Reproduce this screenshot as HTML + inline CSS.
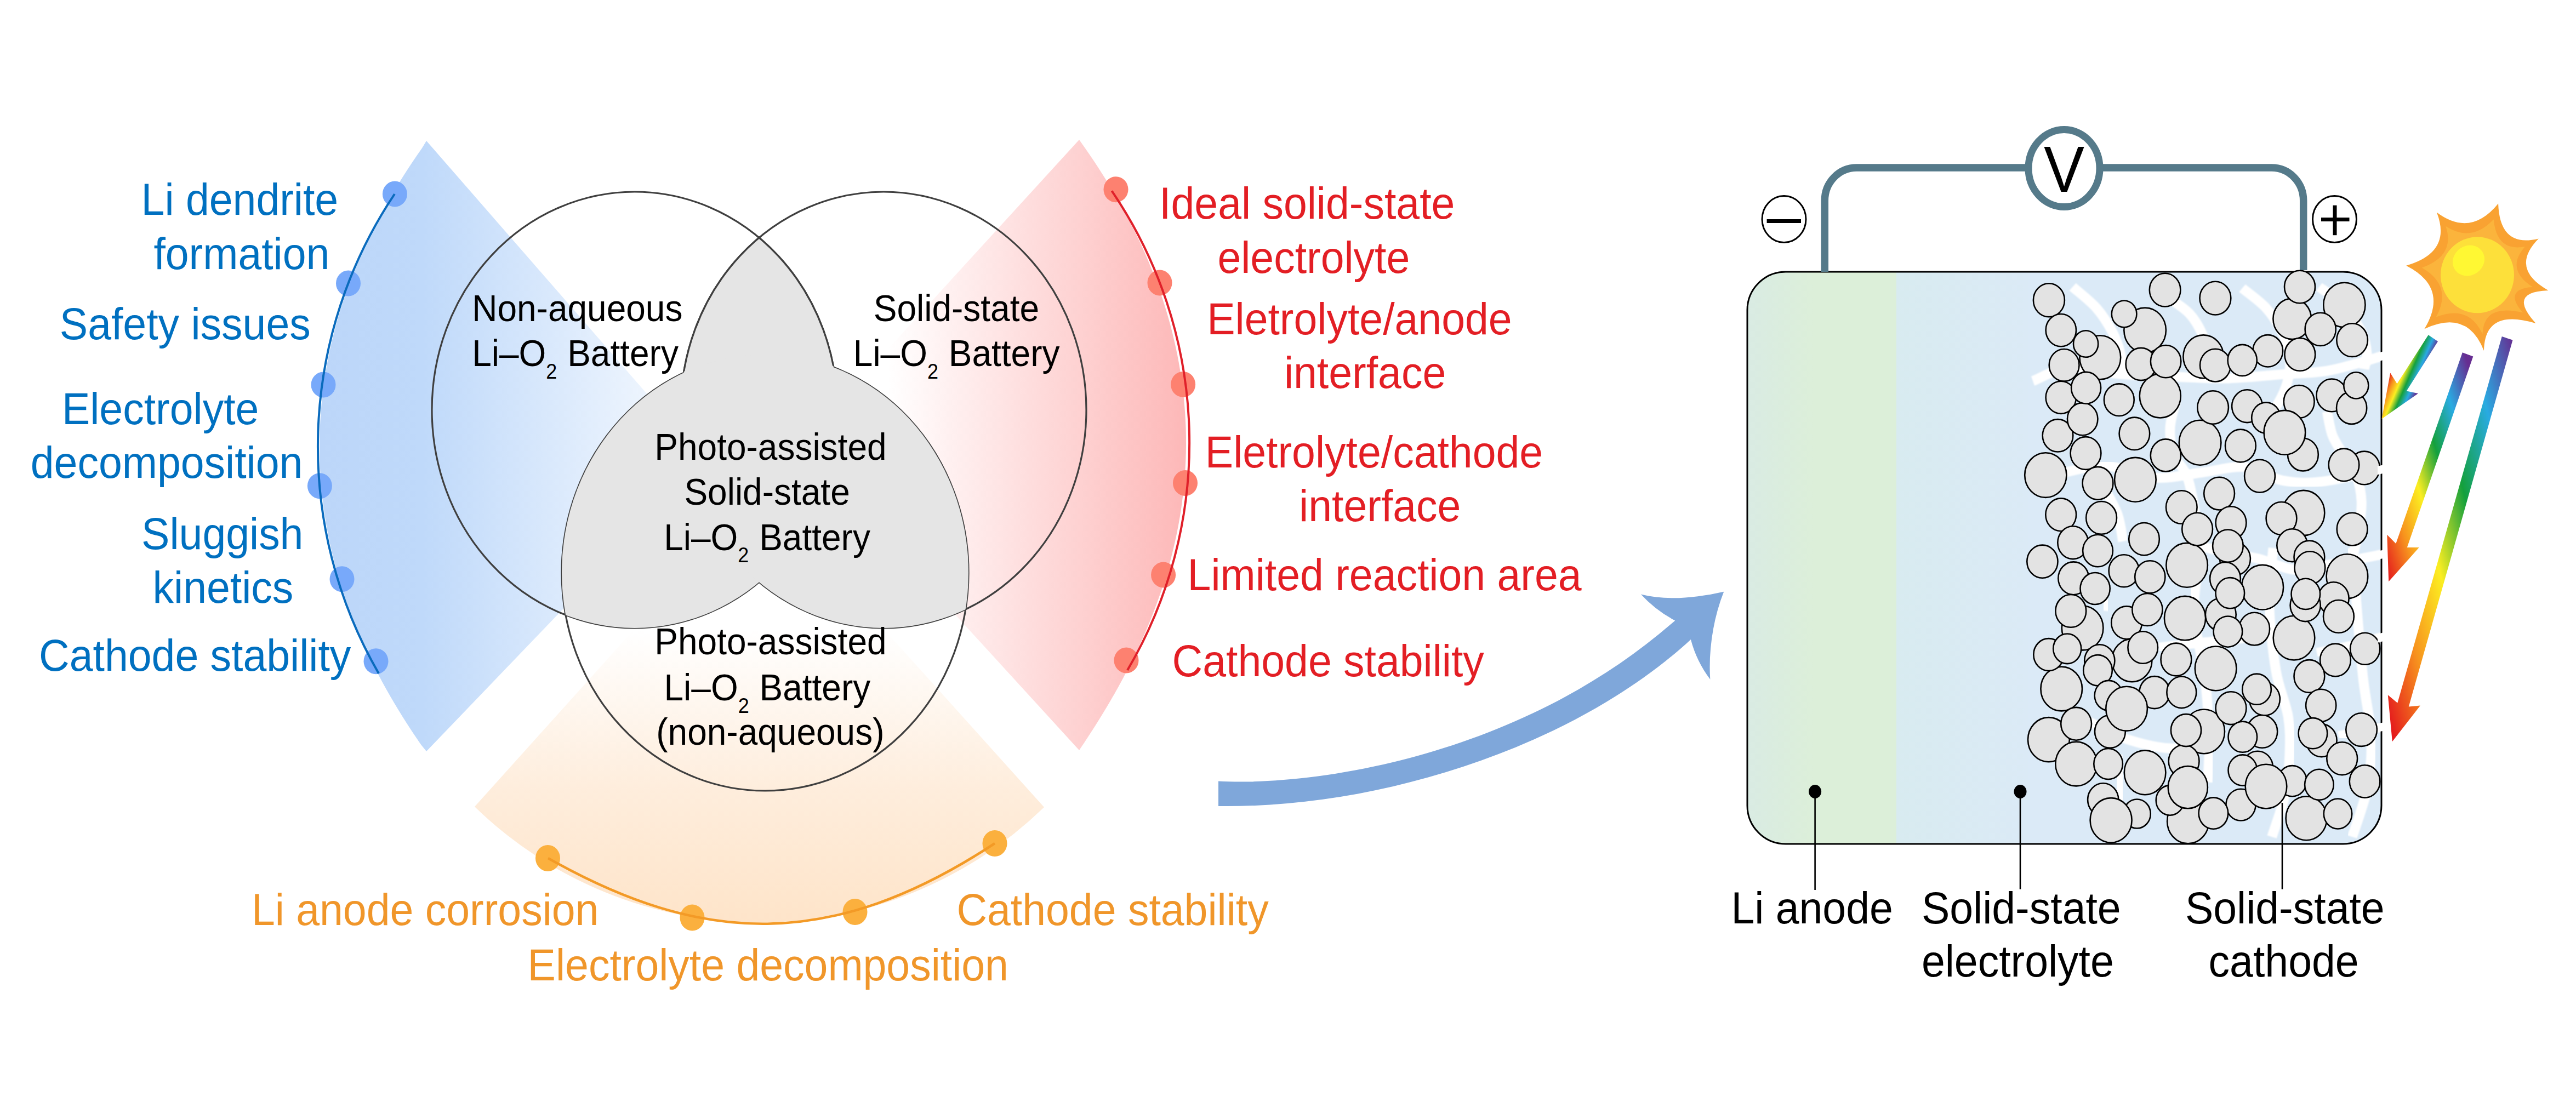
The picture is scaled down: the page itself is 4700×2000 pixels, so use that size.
<!DOCTYPE html>
<html><head><meta charset="utf-8"><style>html,body{margin:0;padding:0;background:#fff;width:4700px;height:2000px;overflow:hidden} svg{display:block} text{font-family:"Liberation Sans",sans-serif}</style></head>
<body><svg width="4700" height="2000" viewBox="0 0 4700 2000">
<defs>
 <linearGradient id="gBlue" gradientUnits="userSpaceOnUse" x1="580" y1="0" x2="1340" y2="0">
  <stop offset="0" stop-color="#bcd6f9"/><stop offset="0.25" stop-color="#bfd9fa"/><stop offset="1" stop-color="#ffffff"/>
 </linearGradient>
 <linearGradient id="gRed" gradientUnits="userSpaceOnUse" x1="2170" y1="0" x2="1620" y2="0">
  <stop offset="0" stop-color="#fdb7b7"/><stop offset="1" stop-color="#ffffff"/>
 </linearGradient>
 <linearGradient id="gOrg" gradientUnits="userSpaceOnUse" x1="0" y1="1690" x2="0" y2="1150">
  <stop offset="0" stop-color="#fee4c9"/><stop offset="0.46" stop-color="#feeddc"/><stop offset="1" stop-color="#ffffff"/>
 </linearGradient>
 <clipPath id="cL"><ellipse cx="1158" cy="748" rx="370" ry="398"/></clipPath>
 <clipPath id="cR"><ellipse cx="1612" cy="748" rx="370" ry="398"/></clipPath>
 <clipPath id="cB"><ellipse cx="1396" cy="1045" rx="371" ry="398"/></clipPath>
 <linearGradient id="gAnode" gradientUnits="userSpaceOnUse" x1="3188" y1="0" x2="3460" y2="0">
  <stop offset="0" stop-color="#d9ebe3"/><stop offset="0.45" stop-color="#dcefd9"/><stop offset="1" stop-color="#dcefd9"/>
 </linearGradient>
 <linearGradient id="gElec" gradientUnits="userSpaceOnUse" x1="3460" y1="0" x2="3700" y2="0">
  <stop offset="0" stop-color="#d8ebf0"/><stop offset="1" stop-color="#dbeaf6"/>
 </linearGradient>
 <clipPath id="cBat"><rect x="3188" y="496" width="1157" height="1044" rx="70" ry="70"/></clipPath>
 <radialGradient id="gSunGlow" cx="0.5" cy="0.5" r="0.5"><stop offset="0" stop-color="#fde03a"/><stop offset="1" stop-color="#fde03a"/></radialGradient>
 <linearGradient id="gRain1" gradientUnits="userSpaceOnUse" x1="4359.8" y1="679.9" x2="4415.2" y2="703.5">
  <stop offset="0" stop-color="#e41b1d"/><stop offset="0.2" stop-color="#f7931e"/><stop offset="0.4" stop-color="#fcee21"/><stop offset="0.6" stop-color="#14a03c"/><stop offset="0.8" stop-color="#29abe2"/><stop offset="1" stop-color="#662d91"/>
 </linearGradient>
 <linearGradient id="gRain2" gradientUnits="userSpaceOnUse" x1="4253.8" y1="716" x2="4496" y2="642.3">
  <stop offset="0" stop-color="#e41b1d"/><stop offset="0.2" stop-color="#f7931e"/><stop offset="0.4" stop-color="#fcee21"/><stop offset="0.6" stop-color="#14a03c"/><stop offset="0.8" stop-color="#29abe2"/><stop offset="1" stop-color="#662d91"/>
 </linearGradient>
 <linearGradient id="gRain3" gradientUnits="userSpaceOnUse" x1="4200.3" y1="709.5" x2="4583" y2="609.3">
  <stop offset="0" stop-color="#e41b1d"/><stop offset="0.2" stop-color="#f7931e"/><stop offset="0.4" stop-color="#fcee21"/><stop offset="0.6" stop-color="#14a03c"/><stop offset="0.8" stop-color="#29abe2"/><stop offset="1" stop-color="#662d91"/>
 </linearGradient>
 <filter id="blurW" x="-20%" y="-20%" width="140%" height="140%"><feGaussianBlur stdDeviation="1.3"/></filter>
</defs>

<path d="M778.0,257.0 L770.0,270.2 L761.3,282.7 L752.8,295.3 L744.4,308.0 L736.2,320.7 L728.2,333.5 L720.3,346.4 L712.7,359.4 L705.2,372.4 L697.9,385.6 L690.7,398.8 L683.8,412.1 L677.1,425.5 L670.6,439.0 L664.2,452.6 L658.1,466.3 L652.2,480.0 L646.5,493.9 L641.1,507.8 L635.8,521.8 L630.8,535.9 L626.0,550.1 L621.5,564.3 L617.2,578.6 L613.1,593.0 L609.3,607.4 L605.7,621.9 L602.4,636.5 L599.4,651.1 L596.5,665.8 L594.0,680.5 L591.7,695.2 L589.7,710.0 L587.9,724.9 L586.4,739.7 L585.2,754.6 L584.3,769.5 L583.6,784.4 L583.1,799.3 L583.0,814.3 L583.1,829.2 L583.5,844.1 L584.2,859.0 L585.1,873.9 L586.3,888.8 L587.8,903.7 L589.5,918.5 L591.5,933.3 L593.8,948.1 L596.3,962.8 L599.1,977.5 L602.1,992.1 L605.4,1006.7 L608.9,1021.2 L612.7,1035.6 L616.7,1050.0 L621.0,1064.3 L625.5,1078.6 L630.3,1092.7 L635.2,1106.8 L640.5,1120.9 L645.9,1134.8 L651.5,1148.7 L657.4,1162.4 L663.5,1176.1 L669.7,1189.7 L676.2,1203.3 L682.9,1216.7 L689.8,1230.0 L696.8,1243.3 L704.1,1256.5 L711.5,1269.6 L719.1,1282.6 L726.9,1295.6 L734.9,1308.5 L743.0,1321.3 L751.3,1334.0 L759.7,1346.6 L768.4,1359.2 L778.0,1371.0 L1287,841 Z" fill="url(#gBlue)"/>
<path d="M1969.0,255.0 L1977.8,267.5 L1986.5,280.0 L1995.0,292.6 L2003.4,305.3 L2011.5,318.0 L2019.6,330.8 L2027.4,343.7 L2035.1,356.7 L2042.5,369.8 L2049.8,382.9 L2057.0,396.1 L2063.9,409.4 L2070.6,422.8 L2077.1,436.3 L2083.5,449.8 L2089.6,463.5 L2095.5,477.2 L2101.1,491.0 L2106.6,504.9 L2111.8,518.9 L2116.8,533.0 L2121.6,547.1 L2126.1,561.3 L2130.4,575.6 L2134.5,590.0 L2138.3,604.4 L2141.8,618.9 L2145.1,633.4 L2148.2,648.0 L2150.9,662.6 L2153.4,677.3 L2155.7,692.1 L2157.7,706.8 L2159.4,721.6 L2160.8,736.5 L2162.0,751.3 L2162.9,766.2 L2163.6,781.1 L2163.9,796.0 L2164.0,810.9 L2163.8,825.8 L2163.3,840.7 L2162.6,855.6 L2161.6,870.5 L2160.3,885.3 L2158.8,900.1 L2156.9,914.9 L2154.9,929.7 L2152.5,944.4 L2149.9,959.1 L2147.0,973.7 L2143.9,988.3 L2140.5,1002.8 L2136.9,1017.3 L2133.0,1031.7 L2128.9,1046.0 L2124.5,1060.3 L2120.0,1074.5 L2115.1,1088.6 L2110.1,1102.6 L2104.8,1116.6 L2099.4,1130.5 L2093.7,1144.3 L2087.8,1158.1 L2081.7,1171.8 L2075.4,1185.4 L2068.9,1198.9 L2062.2,1212.3 L2055.3,1225.7 L2048.3,1239.0 L2041.1,1252.3 L2033.7,1265.4 L2026.2,1278.5 L2018.5,1291.6 L2010.6,1304.6 L2002.6,1317.6 L1994.4,1330.5 L1986.1,1343.3 L1977.6,1356.2 L1969.0,1369.0 L1460,812 Z" fill="url(#gRed)"/>
<path d="M866,1472 A745,745 0 0 0 1905,1473 L1385,895 Z" fill="url(#gOrg)"/>
<ellipse cx="1158" cy="748" rx="370" ry="398" fill="none" stroke="#3f3f3f" stroke-width="3.2"/>
<ellipse cx="1612" cy="748" rx="370" ry="398" fill="none" stroke="#3f3f3f" stroke-width="3.2"/>
<ellipse cx="1396" cy="1045" rx="371" ry="398" fill="none" stroke="#3f3f3f" stroke-width="3.2"/>
<g clip-path="url(#cR)"><ellipse cx="1158" cy="748" rx="370" ry="398" fill="#e5e5e5"/></g>
<g clip-path="url(#cB)"><ellipse cx="1158" cy="748" rx="370" ry="398" fill="#e5e5e5"/></g>
<g clip-path="url(#cB)"><ellipse cx="1612" cy="748" rx="370" ry="398" fill="#e5e5e5"/></g>
<clipPath id="cR2"><ellipse cx="1612" cy="748" rx="374" ry="402"/></clipPath><mask id="mLens" maskUnits="userSpaceOnUse" x="0" y="0" width="4700" height="2000"><g clip-path="url(#cR2)"><ellipse cx="1158" cy="748" rx="370" ry="398" fill="#fff" stroke="#fff" stroke-width="8"/></g><ellipse cx="1396" cy="1045" rx="373" ry="400" fill="#000"/></mask>
<g mask="url(#mLens)"><ellipse cx="1158" cy="748" rx="370" ry="398" fill="none" stroke="#3f3f3f" stroke-width="3.2"/><ellipse cx="1612" cy="748" rx="370" ry="398" fill="none" stroke="#3f3f3f" stroke-width="3.2"/></g>
<ellipse cx="720.4" cy="354" rx="22.5" ry="23.5" fill="#78a9fa"/>
<ellipse cx="635.5" cy="517" rx="22.5" ry="23.5" fill="#78a9fa"/>
<ellipse cx="590" cy="702" rx="22.5" ry="23.5" fill="#78a9fa"/>
<ellipse cx="583.4" cy="886.7" rx="22.5" ry="23.5" fill="#78a9fa"/>
<ellipse cx="624" cy="1056.7" rx="22.5" ry="23.5" fill="#78a9fa"/>
<ellipse cx="686" cy="1206.7" rx="22.5" ry="23.5" fill="#78a9fa"/>
<path d="M720,354 A828,828 0 0 0 691,1229" fill="none" stroke="#0a6bbd" stroke-width="4"/>
<ellipse cx="2036" cy="345.7" rx="22.5" ry="23.5" fill="#fd8170"/>
<ellipse cx="2116" cy="516" rx="22.5" ry="23.5" fill="#fd8170"/>
<ellipse cx="2158.6" cy="701.4" rx="22.5" ry="23.5" fill="#fd8170"/>
<ellipse cx="2162.5" cy="881.5" rx="22.5" ry="23.5" fill="#fd8170"/>
<ellipse cx="2122.6" cy="1049" rx="22.5" ry="23.5" fill="#fd8170"/>
<ellipse cx="2055" cy="1205" rx="22.5" ry="23.5" fill="#fd8170"/>
<path d="M2028.5,348.4 A817,817 0 0 1 2057,1223" fill="none" stroke="#e0202a" stroke-width="4"/>
<ellipse cx="999.5" cy="1566" rx="22.5" ry="24" fill="#fbb03e"/>
<ellipse cx="1263" cy="1674.6" rx="22.5" ry="24" fill="#fbb03e"/>
<ellipse cx="1560" cy="1664" rx="22.5" ry="24" fill="#fbb03e"/>
<ellipse cx="1815" cy="1539" rx="22.5" ry="24" fill="#fbb03e"/>
<path d="M1000,1566 C1279.6,1724.1 1515.5,1736.1 1815,1539" fill="none" stroke="#f39a26" stroke-width="4.5"/>
<text font-family="Liberation Sans" transform="translate(257.6,392.0) scale(1,1.07)" font-size="77" fill="#0070c0">Li dendrite</text>
<text font-family="Liberation Sans" transform="translate(280.4,490.5) scale(1,1.07)" font-size="77" fill="#0070c0">formation</text>
<text font-family="Liberation Sans" transform="translate(108.8,618.6) scale(1,1.07)" font-size="77" fill="#0070c0">Safety issues</text>
<text font-family="Liberation Sans" transform="translate(112.9,774.0) scale(1,1.07)" font-size="77" fill="#0070c0">Electrolyte</text>
<text font-family="Liberation Sans" transform="translate(55.8,872.0) scale(1,1.07)" font-size="77" fill="#0070c0">decomposition</text>
<text font-family="Liberation Sans" transform="translate(258.1,1002.0) scale(1,1.07)" font-size="77" fill="#0070c0">Sluggish</text>
<text font-family="Liberation Sans" transform="translate(278.6,1099.6) scale(1,1.07)" font-size="77" fill="#0070c0">kinetics</text>
<text font-family="Liberation Sans" transform="translate(71.1,1224.0) scale(1,1.07)" font-size="77" fill="#0070c0">Cathode stability</text>
<text font-family="Liberation Sans" transform="translate(2115.1,399.0) scale(1,1.07)" font-size="77" fill="#e31e24">Ideal solid-state</text>
<text font-family="Liberation Sans" transform="translate(2221.4,497.6) scale(1,1.07)" font-size="77" fill="#e31e24">electrolyte</text>
<text font-family="Liberation Sans" transform="translate(2202.2,609.7) scale(1,1.07)" font-size="77" fill="#e31e24">Eletrolyte/anode</text>
<text font-family="Liberation Sans" transform="translate(2342.9,708.0) scale(1,1.07)" font-size="77" fill="#e31e24">interface</text>
<text font-family="Liberation Sans" transform="translate(2198.8,852.5) scale(1,1.07)" font-size="77" fill="#e31e24">Eletrolyte/cathode</text>
<text font-family="Liberation Sans" transform="translate(2370.1,951.0) scale(1,1.07)" font-size="77" fill="#e31e24">interface</text>
<text font-family="Liberation Sans" transform="translate(2166.6,1077.0) scale(1,1.07)" font-size="77" fill="#e31e24">Limited reaction area</text>
<text font-family="Liberation Sans" transform="translate(2138.6,1233.7) scale(1,1.07)" font-size="77" fill="#e31e24">Cathode stability</text>
<text font-family="Liberation Sans" transform="translate(458.9,1687.5) scale(1,1.07)" font-size="77" fill="#f0962a">Li anode corrosion</text>
<text font-family="Liberation Sans" transform="translate(1745.4,1687.5) scale(1,1.07)" font-size="77" fill="#f0962a">Cathode stability</text>
<text font-family="Liberation Sans" transform="translate(962.6,1789.0) scale(1,1.07)" font-size="77" fill="#f0962a">Electrolyte decomposition</text>
<text font-family="Liberation Sans" transform="translate(861.2,586.3) scale(1,1.07)" font-size="64" fill="#000">Non-aqueous</text>
<text font-family="Liberation Sans" transform="translate(1593.7,586.3) scale(1,1.07)" font-size="64" fill="#000">Solid-state</text>
<text font-family="Liberation Sans" transform="translate(1194.3,839.0) scale(1,1.07)" font-size="64" fill="#000">Photo-assisted</text>
<text font-family="Liberation Sans" transform="translate(1248.4,921.0) scale(1,1.07)" font-size="64" fill="#000">Solid-state</text>
<text font-family="Liberation Sans" transform="translate(1194.3,1194.3) scale(1,1.07)" font-size="64" fill="#000">Photo-assisted</text>
<text font-family="Liberation Sans" transform="translate(1197.3,1359.3) scale(1,1.07)" font-size="64" fill="#000">(non-aqueous)</text>
<text font-family="Liberation Sans" transform="translate(3158.4,1684.7) scale(1,1.07)" font-size="77" fill="#000">Li anode</text>
<text font-family="Liberation Sans" transform="translate(3505.9,1684.7) scale(1,1.07)" font-size="77" fill="#000">Solid-state</text>
<text font-family="Liberation Sans" transform="translate(3505.9,1781.7) scale(1,1.07)" font-size="77" fill="#000">electrolyte</text>
<text font-family="Liberation Sans" transform="translate(3986.9,1684.7) scale(1,1.07)" font-size="77" fill="#000">Solid-state</text>
<text font-family="Liberation Sans" transform="translate(4029.6,1781.7) scale(1,1.07)" font-size="77" fill="#000">cathode</text>
<text font-family="Liberation Sans" transform="translate(861.2,668.4) scale(1,1.07)" font-size="64" fill="#000">Li–O<tspan font-size="36" dy="21">2</tspan><tspan dy="-21" dx="1"> Battery</tspan></text>
<text font-family="Liberation Sans" transform="translate(1556.8,668.4) scale(1,1.07)" font-size="64" fill="#000">Li–O<tspan font-size="36" dy="21">2</tspan><tspan dy="-21" dx="1"> Battery</tspan></text>
<text font-family="Liberation Sans" transform="translate(1211.2,1003.8) scale(1,1.07)" font-size="64" fill="#000">Li–O<tspan font-size="36" dy="21">2</tspan><tspan dy="-21" dx="1"> Battery</tspan></text>
<text font-family="Liberation Sans" transform="translate(1211.5,1278.2) scale(1,1.07)" font-size="64" fill="#000">Li–O<tspan font-size="36" dy="21">2</tspan><tspan dy="-21" dx="1"> Battery</tspan></text>
<path d="M2223,1425.5 C2400,1435 2775,1380 3056.2,1132.4 Q3021,1114 2993.9,1084.5 C3040,1096 3090,1092 3145.2,1079.7 C3125,1130 3117,1190 3120.3,1239.7 Q3095.4,1206.8 3084.9,1166.9 C2875,1360 2525,1475 2223,1471 Z" fill="#7fa7da"/>
<g clip-path="url(#cBat)">
<rect x="3188" y="496" width="272" height="1044" fill="url(#gAnode)"/>
<rect x="3460" y="496" width="240" height="1044" fill="url(#gElec)"/>
<rect x="3700" y="496" width="645" height="1044" fill="#dbeaf7"/>
<path d="M3781.6,523.5 C3788.8,530.0 3813.0,548.5 3825.1,562.2 C3837.2,575.9 3846.8,592.0 3854.1,605.7 C3861.3,619.4 3865.4,631.5 3868.6,644.4 C3871.8,657.3 3872.6,676.7 3873.4,683.1 " fill="none" stroke="#ffffff" stroke-width="18" stroke-linecap="butt" filter="url(#blurW)"/>
<path d="M3955.7,542.9 C3962.1,547.7 3983.9,560.6 3994.3,571.9 C4004.8,583.2 4013.3,598.5 4018.5,610.6 C4023.8,622.7 4024.6,638.8 4025.8,644.4 " fill="none" stroke="#ffffff" stroke-width="18" stroke-linecap="butt" filter="url(#blurW)"/>
<path d="M4091.1,525.9 C4098.3,532.0 4122.5,548.9 4134.6,562.2 C4146.7,575.5 4156.3,591.2 4163.6,605.7 C4170.9,620.2 4176.5,633.9 4178.1,649.3 C4179.7,664.6 4176.9,683.1 4173.3,697.6 C4169.6,712.1 4163.6,723.4 4156.3,736.3 C4149.1,749.2 4134.2,768.5 4129.7,775.0 " fill="none" stroke="#ffffff" stroke-width="18" stroke-linecap="butt" filter="url(#blurW)"/>
<path d="M4231.3,523.5 C4238.6,529.2 4261.9,543.7 4274.8,557.4 C4287.7,571.1 4301.4,591.2 4308.7,605.7 C4315.9,620.2 4317.5,633.1 4318.4,644.4 C4319.2,655.7 4314.3,668.6 4313.5,673.4 " fill="none" stroke="#ffffff" stroke-width="18" stroke-linecap="butt" filter="url(#blurW)"/>
<path d="M3709.0,695.2 C3720.3,691.2 3749.3,673.0 3776.7,671.0 C3804.1,669.0 3839.6,680.3 3873.4,683.1 C3907.3,685.9 3947.6,686.7 3979.8,687.9 C4012.1,689.2 4036.3,691.2 4066.9,690.4 C4097.5,689.6 4133.0,685.5 4163.6,683.1 C4194.2,680.7 4218.8,681.8 4250.6,675.9 C4282.5,669.9 4337.3,652.1 4354.6,647.3 " fill="none" stroke="#ffffff" stroke-width="18" stroke-linecap="butt" filter="url(#blurW)"/>
<path d="M3970.2,731.5 C3968.4,739.5 3960.3,763.7 3959.5,779.8 C3958.7,796.0 3960.3,813.7 3965.3,828.2 C3970.3,842.7 3983.5,852.4 3989.5,866.9 C3995.5,881.4 3998.4,899.1 4001.6,915.2 C4004.8,931.4 4006.8,947.8 4008.8,963.6 C4010.9,979.4 4012.9,1002.3 4013.7,1010.0 " fill="none" stroke="#ffffff" stroke-width="18" stroke-linecap="butt" filter="url(#blurW)"/>
<path d="M3767.0,862.0 C3779.9,860.0 3817.0,848.3 3844.4,850.0 C3871.8,851.6 3902.5,869.7 3931.5,871.7 C3960.5,873.7 3991.1,865.3 4018.5,862.0 C4045.9,858.8 4071.7,850.0 4095.9,852.4 C4120.1,854.8 4140.2,872.1 4163.6,876.6 C4187.0,881.0 4204.3,882.6 4236.1,879.0 C4268.0,875.3 4334.9,858.8 4354.6,854.8 " fill="none" stroke="#ffffff" stroke-width="18" stroke-linecap="butt" filter="url(#blurW)"/>
<path d="M4245.8,750.8 C4247.4,758.1 4250.6,781.4 4255.5,794.3 C4260.3,807.2 4267.6,816.1 4274.8,828.2 C4282.1,840.3 4293.4,852.4 4299.0,866.9 C4304.6,881.4 4307.9,899.1 4308.7,915.2 C4309.5,931.4 4306.3,947.8 4303.8,963.6 C4301.4,979.4 4295.8,1002.3 4294.2,1010.0 " fill="none" stroke="#ffffff" stroke-width="18" stroke-linecap="butt" filter="url(#blurW)"/>
<path d="M3839.6,891.1 C3843.6,899.1 3858.1,923.3 3863.8,939.4 C3869.4,955.5 3871.8,979.7 3873.4,987.8 " fill="none" stroke="#ffffff" stroke-width="18" stroke-linecap="butt" filter="url(#blurW)"/>
<path d="M4147.6,1000.0 C4146.3,1016.6 4139.3,1062.2 4140.1,1099.5 C4140.9,1136.8 4146.7,1189.0 4152.5,1223.8 C4158.3,1258.6 4170.8,1282.7 4174.9,1308.4 C4179.1,1334.1 4178.2,1354.8 4177.4,1378.0 C4176.6,1401.2 4175.3,1422.8 4169.9,1447.7 C4164.6,1472.5 4149.2,1514.0 4145.1,1527.2 " fill="none" stroke="#ffffff" stroke-width="18" stroke-linecap="butt" filter="url(#blurW)"/>
<path d="M4291.8,1000.0 C4293.0,1016.6 4295.9,1059.7 4299.3,1099.5 C4302.6,1139.3 4307.1,1197.3 4311.7,1238.8 C4316.3,1280.2 4325.4,1315.0 4326.6,1348.2 C4327.9,1381.3 4325.0,1407.9 4319.2,1437.7 C4313.4,1467.6 4296.4,1512.3 4291.8,1527.2 " fill="none" stroke="#ffffff" stroke-width="18" stroke-linecap="butt" filter="url(#blurW)"/>
<path d="M4008.3,1049.7 C4007.5,1062.2 4000.8,1092.8 4003.3,1124.3 C4005.8,1155.9 4018.6,1201.4 4023.2,1238.8 C4027.8,1276.1 4029.8,1316.7 4030.7,1348.2 C4031.5,1379.7 4028.6,1414.5 4028.2,1427.8 " fill="none" stroke="#ffffff" stroke-width="18" stroke-linecap="butt" filter="url(#blurW)"/>
<path d="M3844.1,1064.7 C3843.3,1073.0 3840.0,1106.1 3839.2,1114.4 " fill="none" stroke="#ffffff" stroke-width="18" stroke-linecap="butt" filter="url(#blurW)"/>
<path d="M3864.0,1378.0 C3865.3,1392.1 3870.3,1448.5 3871.5,1462.6 " fill="none" stroke="#ffffff" stroke-width="18" stroke-linecap="butt" filter="url(#blurW)"/>
<path d="M3938.6,1181.6 C3949.4,1180.3 3980.1,1176.6 4003.3,1174.1 C4026.5,1171.6 4053.9,1169.9 4077.9,1166.6 C4102.0,1163.3 4135.9,1156.3 4147.6,1154.2 " fill="none" stroke="#ffffff" stroke-width="18" stroke-linecap="butt" filter="url(#blurW)"/>
<path d="M4227.1,1191.5 C4237.1,1189.4 4265.3,1184.4 4286.8,1179.1 C4308.4,1173.8 4344.9,1162.9 4356.5,1159.7 " fill="none" stroke="#ffffff" stroke-width="18" stroke-linecap="butt" filter="url(#blurW)"/>
<path d="M3809.3,1315.8 C3820.9,1321.2 3854.1,1339.9 3879.0,1348.2 C3903.8,1356.5 3933.7,1363.9 3958.5,1365.6 C3983.4,1367.2 4016.6,1359.4 4028.2,1358.1 " fill="none" stroke="#ffffff" stroke-width="18" stroke-linecap="butt" filter="url(#blurW)"/>
<path d="M4266.9,1343.2 C4281.9,1340.1 4341.5,1327.5 4356.5,1324.3 " fill="none" stroke="#ffffff" stroke-width="18" stroke-linecap="butt" filter="url(#blurW)"/>
<path d="M3990.0,990.0 C4000.9,992.8 4033.8,1001.7 4055.7,1006.7 C4077.6,1011.7 4099.5,1014.3 4121.4,1019.8 C4143.3,1025.3 4165.1,1037.8 4187.0,1039.5 C4208.9,1041.2 4224.8,1034.6 4252.8,1029.7 C4280.8,1024.8 4338.0,1013.3 4355.0,1010.0 " fill="none" stroke="#ffffff" stroke-width="18" stroke-linecap="butt" filter="url(#blurW)"/>
<ellipse cx="4202.9" cy="936.0" rx="38.4" ry="41.1" fill="#e3e3e3" stroke="#000" stroke-width="2.6"/>
<ellipse cx="4014.1" cy="807.7" rx="38.3" ry="41.0" fill="#e3e3e3" stroke="#000" stroke-width="2.6"/>
<ellipse cx="3913.6" cy="602.6" rx="38.3" ry="41.0" fill="#e3e3e3" stroke="#000" stroke-width="2.6"/>
<ellipse cx="4277.4" cy="556.5" rx="38.1" ry="40.8" fill="#e3e3e3" stroke="#000" stroke-width="2.6"/>
<ellipse cx="3732.3" cy="867.1" rx="38.1" ry="40.8" fill="#e3e3e3" stroke="#000" stroke-width="2.6"/>
<ellipse cx="4128.0" cy="1071.7" rx="38.1" ry="40.8" fill="#e3e3e3" stroke="#000" stroke-width="2.6"/>
<ellipse cx="3992.1" cy="1498.7" rx="38.0" ry="40.7" fill="#e3e3e3" stroke="#000" stroke-width="2.6"/>
<ellipse cx="3737.9" cy="1349.7" rx="37.9" ry="40.6" fill="#e3e3e3" stroke="#000" stroke-width="2.6"/>
<ellipse cx="3895.9" cy="875.3" rx="37.8" ry="40.4" fill="#e3e3e3" stroke="#000" stroke-width="2.6"/>
<ellipse cx="3990.1" cy="1031.3" rx="37.8" ry="40.4" fill="#e3e3e3" stroke="#000" stroke-width="2.6"/>
<ellipse cx="4282.4" cy="1051.7" rx="37.8" ry="40.4" fill="#e3e3e3" stroke="#000" stroke-width="2.6"/>
<ellipse cx="3799.6" cy="1146.0" rx="37.8" ry="40.4" fill="#e3e3e3" stroke="#000" stroke-width="2.6"/>
<ellipse cx="3761.2" cy="1257.0" rx="37.8" ry="40.4" fill="#e3e3e3" stroke="#000" stroke-width="2.6"/>
<ellipse cx="3788.1" cy="1394.0" rx="37.8" ry="40.4" fill="#e3e3e3" stroke="#000" stroke-width="2.6"/>
<ellipse cx="3913.6" cy="1409.8" rx="37.8" ry="40.4" fill="#e3e3e3" stroke="#000" stroke-width="2.6"/>
<ellipse cx="4185.5" cy="1164.1" rx="37.8" ry="40.4" fill="#e3e3e3" stroke="#000" stroke-width="2.6"/>
<ellipse cx="4042.6" cy="1219.9" rx="37.8" ry="40.4" fill="#e3e3e3" stroke="#000" stroke-width="2.6"/>
<ellipse cx="4021.2" cy="1334.9" rx="37.8" ry="40.4" fill="#e3e3e3" stroke="#000" stroke-width="2.6"/>
<ellipse cx="3986.5" cy="1128.1" rx="37.6" ry="40.2" fill="#e3e3e3" stroke="#000" stroke-width="2.6"/>
<ellipse cx="3941.3" cy="722.4" rx="37.5" ry="40.1" fill="#e3e3e3" stroke="#000" stroke-width="2.6"/>
<ellipse cx="4208.0" cy="1493.2" rx="37.4" ry="40.0" fill="#e3e3e3" stroke="#000" stroke-width="2.6"/>
<ellipse cx="3831.8" cy="652.3" rx="37.4" ry="40.0" fill="#e3e3e3" stroke="#000" stroke-width="2.6"/>
<ellipse cx="4020.2" cy="650.8" rx="36.8" ry="39.4" fill="#e3e3e3" stroke="#000" stroke-width="2.6"/>
<ellipse cx="3889.9" cy="1205.1" rx="36.5" ry="39.1" fill="#e3e3e3" stroke="#000" stroke-width="2.6"/>
<ellipse cx="4182.2" cy="581.8" rx="34.8" ry="37.2" fill="#e3e3e3" stroke="#000" stroke-width="2.6"/>
<ellipse cx="3738.4" cy="547.7" rx="28.5" ry="30.5" fill="#e3e3e3" stroke="#000" stroke-width="2.6"/>
<ellipse cx="4041.9" cy="544.1" rx="28.4" ry="30.4" fill="#e3e3e3" stroke="#000" stroke-width="2.6"/>
<ellipse cx="3950.1" cy="529.1" rx="28.3" ry="30.3" fill="#e3e3e3" stroke="#000" stroke-width="2.6"/>
<ellipse cx="4291.6" cy="620.6" rx="28.3" ry="30.3" fill="#e3e3e3" stroke="#000" stroke-width="2.6"/>
<ellipse cx="4037.6" cy="743.5" rx="28.3" ry="30.3" fill="#e3e3e3" stroke="#000" stroke-width="2.6"/>
<ellipse cx="3980.3" cy="925.5" rx="28.3" ry="30.3" fill="#e3e3e3" stroke="#000" stroke-width="2.6"/>
<ellipse cx="4313.6" cy="853.9" rx="28.3" ry="30.3" fill="#e3e3e3" stroke="#000" stroke-width="2.6"/>
<ellipse cx="4308.6" cy="1331.6" rx="28.3" ry="30.3" fill="#e3e3e3" stroke="#000" stroke-width="2.6"/>
<ellipse cx="3837.2" cy="1459.3" rx="28.1" ry="30.1" fill="#e3e3e3" stroke="#000" stroke-width="2.6"/>
<ellipse cx="4233.7" cy="600.9" rx="28.1" ry="30.1" fill="#e3e3e3" stroke="#000" stroke-width="2.6"/>
<ellipse cx="3726.4" cy="1024.7" rx="28.1" ry="30.1" fill="#e3e3e3" stroke="#000" stroke-width="2.6"/>
<ellipse cx="4041.9" cy="666.6" rx="27.9" ry="29.9" fill="#e3e3e3" stroke="#000" stroke-width="2.6"/>
<ellipse cx="4196.3" cy="646.9" rx="27.9" ry="29.9" fill="#e3e3e3" stroke="#000" stroke-width="2.6"/>
<ellipse cx="4100.0" cy="741.2" rx="27.9" ry="29.9" fill="#e3e3e3" stroke="#000" stroke-width="2.6"/>
<ellipse cx="4194.7" cy="732.9" rx="27.9" ry="29.9" fill="#e3e3e3" stroke="#000" stroke-width="2.6"/>
<ellipse cx="4254.4" cy="721.4" rx="27.9" ry="29.9" fill="#e3e3e3" stroke="#000" stroke-width="2.6"/>
<ellipse cx="4087.9" cy="813.5" rx="27.9" ry="29.9" fill="#e3e3e3" stroke="#000" stroke-width="2.6"/>
<ellipse cx="4201.9" cy="829.6" rx="27.9" ry="29.9" fill="#e3e3e3" stroke="#000" stroke-width="2.6"/>
<ellipse cx="3805.5" cy="827.0" rx="27.9" ry="29.9" fill="#e3e3e3" stroke="#000" stroke-width="2.6"/>
<ellipse cx="3827.5" cy="881.8" rx="27.9" ry="29.9" fill="#e3e3e3" stroke="#000" stroke-width="2.6"/>
<ellipse cx="3760.2" cy="939.3" rx="27.9" ry="29.9" fill="#e3e3e3" stroke="#000" stroke-width="2.6"/>
<ellipse cx="3834.1" cy="944.9" rx="27.9" ry="29.9" fill="#e3e3e3" stroke="#000" stroke-width="2.6"/>
<ellipse cx="3782.2" cy="990.2" rx="27.9" ry="29.9" fill="#e3e3e3" stroke="#000" stroke-width="2.6"/>
<ellipse cx="3783.2" cy="1055.3" rx="27.9" ry="29.9" fill="#e3e3e3" stroke="#000" stroke-width="2.6"/>
<ellipse cx="3778.3" cy="1114.9" rx="27.9" ry="29.9" fill="#e3e3e3" stroke="#000" stroke-width="2.6"/>
<ellipse cx="3880.1" cy="1136.3" rx="27.9" ry="29.9" fill="#e3e3e3" stroke="#000" stroke-width="2.6"/>
<ellipse cx="4123.0" cy="868.7" rx="27.9" ry="29.9" fill="#e3e3e3" stroke="#000" stroke-width="2.6"/>
<ellipse cx="4049.1" cy="900.6" rx="27.9" ry="29.9" fill="#e3e3e3" stroke="#000" stroke-width="2.6"/>
<ellipse cx="4162.5" cy="945.9" rx="27.9" ry="29.9" fill="#e3e3e3" stroke="#000" stroke-width="2.6"/>
<ellipse cx="4070.5" cy="954.1" rx="27.9" ry="29.9" fill="#e3e3e3" stroke="#000" stroke-width="2.6"/>
<ellipse cx="4009.1" cy="965.6" rx="27.9" ry="29.9" fill="#e3e3e3" stroke="#000" stroke-width="2.6"/>
<ellipse cx="4291.6" cy="965.6" rx="27.9" ry="29.9" fill="#e3e3e3" stroke="#000" stroke-width="2.6"/>
<ellipse cx="4182.2" cy="995.2" rx="27.9" ry="29.9" fill="#e3e3e3" stroke="#000" stroke-width="2.6"/>
<ellipse cx="4078.0" cy="1019.8" rx="27.9" ry="29.9" fill="#e3e3e3" stroke="#000" stroke-width="2.6"/>
<ellipse cx="4213.4" cy="1016.5" rx="27.9" ry="29.9" fill="#e3e3e3" stroke="#000" stroke-width="2.6"/>
<ellipse cx="4214.4" cy="1036.2" rx="27.9" ry="29.9" fill="#e3e3e3" stroke="#000" stroke-width="2.6"/>
<ellipse cx="4060.0" cy="1055.9" rx="27.9" ry="29.9" fill="#e3e3e3" stroke="#000" stroke-width="2.6"/>
<ellipse cx="4257.7" cy="1092.1" rx="27.9" ry="29.9" fill="#e3e3e3" stroke="#000" stroke-width="2.6"/>
<ellipse cx="4266.9" cy="1124.9" rx="27.9" ry="29.9" fill="#e3e3e3" stroke="#000" stroke-width="2.6"/>
<ellipse cx="4051.8" cy="1121.6" rx="27.9" ry="29.9" fill="#e3e3e3" stroke="#000" stroke-width="2.6"/>
<ellipse cx="3970.4" cy="1203.5" rx="27.9" ry="29.9" fill="#e3e3e3" stroke="#000" stroke-width="2.6"/>
<ellipse cx="3788.1" cy="1320.8" rx="27.9" ry="29.9" fill="#e3e3e3" stroke="#000" stroke-width="2.6"/>
<ellipse cx="3849.9" cy="1334.9" rx="27.9" ry="29.9" fill="#e3e3e3" stroke="#000" stroke-width="2.6"/>
<ellipse cx="3984.6" cy="1389.1" rx="27.9" ry="29.9" fill="#e3e3e3" stroke="#000" stroke-width="2.6"/>
<ellipse cx="4113.2" cy="1147.6" rx="27.9" ry="29.9" fill="#e3e3e3" stroke="#000" stroke-width="2.6"/>
<ellipse cx="4261.0" cy="1204.5" rx="27.9" ry="29.9" fill="#e3e3e3" stroke="#000" stroke-width="2.6"/>
<ellipse cx="4213.4" cy="1234.0" rx="27.9" ry="29.9" fill="#e3e3e3" stroke="#000" stroke-width="2.6"/>
<ellipse cx="4131.9" cy="1275.7" rx="27.9" ry="29.9" fill="#e3e3e3" stroke="#000" stroke-width="2.6"/>
<ellipse cx="4070.5" cy="1292.2" rx="27.9" ry="29.9" fill="#e3e3e3" stroke="#000" stroke-width="2.6"/>
<ellipse cx="4127.3" cy="1334.9" rx="27.9" ry="29.9" fill="#e3e3e3" stroke="#000" stroke-width="2.6"/>
<ellipse cx="4235.7" cy="1351.3" rx="27.9" ry="29.9" fill="#e3e3e3" stroke="#000" stroke-width="2.6"/>
<ellipse cx="4273.2" cy="1384.2" rx="27.9" ry="29.9" fill="#e3e3e3" stroke="#000" stroke-width="2.6"/>
<ellipse cx="4119.1" cy="1400.6" rx="27.9" ry="29.9" fill="#e3e3e3" stroke="#000" stroke-width="2.6"/>
<ellipse cx="3754.5" cy="794.8" rx="27.8" ry="29.7" fill="#e3e3e3" stroke="#000" stroke-width="2.6"/>
<ellipse cx="3894.4" cy="791.3" rx="27.8" ry="29.7" fill="#e3e3e3" stroke="#000" stroke-width="2.6"/>
<ellipse cx="3912.0" cy="983.7" rx="27.8" ry="29.7" fill="#e3e3e3" stroke="#000" stroke-width="2.6"/>
<ellipse cx="4276.5" cy="848.3" rx="27.8" ry="29.7" fill="#e3e3e3" stroke="#000" stroke-width="2.6"/>
<ellipse cx="4064.9" cy="996.2" rx="27.8" ry="29.7" fill="#e3e3e3" stroke="#000" stroke-width="2.6"/>
<ellipse cx="4314.6" cy="1425.9" rx="27.8" ry="29.7" fill="#e3e3e3" stroke="#000" stroke-width="2.6"/>
<ellipse cx="3760.3" cy="602.6" rx="27.7" ry="29.6" fill="#e3e3e3" stroke="#000" stroke-width="2.6"/>
<ellipse cx="3760.3" cy="725.3" rx="27.7" ry="29.6" fill="#e3e3e3" stroke="#000" stroke-width="2.6"/>
<ellipse cx="3799.7" cy="764.7" rx="27.7" ry="29.6" fill="#e3e3e3" stroke="#000" stroke-width="2.6"/>
<ellipse cx="3906.3" cy="664.5" rx="27.7" ry="29.6" fill="#e3e3e3" stroke="#000" stroke-width="2.6"/>
<ellipse cx="3951.6" cy="659.6" rx="27.7" ry="29.6" fill="#e3e3e3" stroke="#000" stroke-width="2.6"/>
<ellipse cx="4290.6" cy="744.4" rx="27.6" ry="29.5" fill="#e3e3e3" stroke="#000" stroke-width="2.6"/>
<ellipse cx="3951.4" cy="830.9" rx="27.6" ry="29.5" fill="#e3e3e3" stroke="#000" stroke-width="2.6"/>
<ellipse cx="3875.2" cy="1041.8" rx="27.6" ry="29.5" fill="#e3e3e3" stroke="#000" stroke-width="2.6"/>
<ellipse cx="3922.8" cy="1052.7" rx="27.6" ry="29.5" fill="#e3e3e3" stroke="#000" stroke-width="2.6"/>
<ellipse cx="3917.9" cy="1112.5" rx="27.6" ry="29.5" fill="#e3e3e3" stroke="#000" stroke-width="2.6"/>
<ellipse cx="4206.2" cy="1104.6" rx="27.6" ry="29.5" fill="#e3e3e3" stroke="#000" stroke-width="2.6"/>
<ellipse cx="3737.9" cy="1194.6" rx="27.6" ry="29.5" fill="#e3e3e3" stroke="#000" stroke-width="2.6"/>
<ellipse cx="3830.8" cy="1205.8" rx="27.6" ry="29.5" fill="#e3e3e3" stroke="#000" stroke-width="2.6"/>
<ellipse cx="3931.0" cy="1263.6" rx="27.6" ry="29.5" fill="#e3e3e3" stroke="#000" stroke-width="2.6"/>
<ellipse cx="3988.5" cy="1332.6" rx="27.6" ry="29.5" fill="#e3e3e3" stroke="#000" stroke-width="2.6"/>
<ellipse cx="4234.7" cy="1287.2" rx="27.6" ry="29.5" fill="#e3e3e3" stroke="#000" stroke-width="2.6"/>
<ellipse cx="3766.1" cy="666.3" rx="27.4" ry="29.3" fill="#e3e3e3" stroke="#000" stroke-width="2.6"/>
<ellipse cx="3866.3" cy="729.7" rx="27.4" ry="29.3" fill="#e3e3e3" stroke="#000" stroke-width="2.6"/>
<ellipse cx="4196.3" cy="523.7" rx="27.4" ry="29.3" fill="#e3e3e3" stroke="#000" stroke-width="2.6"/>
<ellipse cx="3827.5" cy="1005.0" rx="27.4" ry="29.3" fill="#e3e3e3" stroke="#000" stroke-width="2.6"/>
<ellipse cx="4137.8" cy="640.3" rx="27.3" ry="29.2" fill="#e3e3e3" stroke="#000" stroke-width="2.6"/>
<ellipse cx="3909.7" cy="1181.5" rx="27.3" ry="29.2" fill="#e3e3e3" stroke="#000" stroke-width="2.6"/>
<ellipse cx="3822.6" cy="1074.0" rx="27.1" ry="29.0" fill="#e3e3e3" stroke="#000" stroke-width="2.6"/>
<ellipse cx="4315.2" cy="1183.8" rx="27.1" ry="29.0" fill="#e3e3e3" stroke="#000" stroke-width="2.6"/>
<ellipse cx="3806.1" cy="707.8" rx="27.0" ry="28.9" fill="#e3e3e3" stroke="#000" stroke-width="2.6"/>
<ellipse cx="4088.5" cy="1468.6" rx="27.0" ry="28.9" fill="#e3e3e3" stroke="#000" stroke-width="2.6"/>
<ellipse cx="3980.3" cy="1263.3" rx="26.9" ry="28.8" fill="#e3e3e3" stroke="#000" stroke-width="2.6"/>
<ellipse cx="4038.4" cy="1484.1" rx="26.8" ry="28.7" fill="#e3e3e3" stroke="#000" stroke-width="2.6"/>
<ellipse cx="4091.2" cy="657.4" rx="26.6" ry="28.5" fill="#e3e3e3" stroke="#000" stroke-width="2.6"/>
<ellipse cx="4134.5" cy="762.5" rx="26.3" ry="28.1" fill="#e3e3e3" stroke="#000" stroke-width="2.6"/>
<ellipse cx="4068.8" cy="1082.2" rx="26.3" ry="28.1" fill="#e3e3e3" stroke="#000" stroke-width="2.6"/>
<ellipse cx="4206.8" cy="1083.9" rx="26.3" ry="28.1" fill="#e3e3e3" stroke="#000" stroke-width="2.6"/>
<ellipse cx="3827.5" cy="1223.2" rx="26.3" ry="28.1" fill="#e3e3e3" stroke="#000" stroke-width="2.6"/>
<ellipse cx="3846.6" cy="1394.0" rx="26.3" ry="28.1" fill="#e3e3e3" stroke="#000" stroke-width="2.6"/>
<ellipse cx="4064.9" cy="1152.6" rx="26.3" ry="28.1" fill="#e3e3e3" stroke="#000" stroke-width="2.6"/>
<ellipse cx="4117.5" cy="1257.7" rx="26.3" ry="28.1" fill="#e3e3e3" stroke="#000" stroke-width="2.6"/>
<ellipse cx="4091.8" cy="1344.7" rx="26.3" ry="28.1" fill="#e3e3e3" stroke="#000" stroke-width="2.6"/>
<ellipse cx="4219.9" cy="1338.2" rx="26.3" ry="28.1" fill="#e3e3e3" stroke="#000" stroke-width="2.6"/>
<ellipse cx="4091.8" cy="1405.5" rx="26.3" ry="28.1" fill="#e3e3e3" stroke="#000" stroke-width="2.6"/>
<ellipse cx="4182.2" cy="1425.2" rx="26.3" ry="28.1" fill="#e3e3e3" stroke="#000" stroke-width="2.6"/>
<ellipse cx="4231.4" cy="1431.8" rx="26.3" ry="28.1" fill="#e3e3e3" stroke="#000" stroke-width="2.6"/>
<ellipse cx="4265.5" cy="1485.0" rx="25.7" ry="27.5" fill="#e3e3e3" stroke="#000" stroke-width="2.6"/>
<ellipse cx="3959.2" cy="1460.4" rx="25.5" ry="27.3" fill="#e3e3e3" stroke="#000" stroke-width="2.6"/>
<ellipse cx="3771.7" cy="1183.8" rx="25.5" ry="27.3" fill="#e3e3e3" stroke="#000" stroke-width="2.6"/>
<ellipse cx="3847.2" cy="1269.2" rx="25.5" ry="27.3" fill="#e3e3e3" stroke="#000" stroke-width="2.6"/>
<ellipse cx="3899.0" cy="1485.0" rx="24.8" ry="26.5" fill="#e3e3e3" stroke="#000" stroke-width="2.6"/>
<ellipse cx="3875.6" cy="572.9" rx="22.8" ry="24.4" fill="#e3e3e3" stroke="#000" stroke-width="2.6"/>
<ellipse cx="4298.8" cy="703.4" rx="22.5" ry="24.1" fill="#e3e3e3" stroke="#000" stroke-width="2.6"/>
<ellipse cx="3851.6" cy="1496.8" rx="38.0" ry="40.7" fill="#e3e3e3" stroke="#000" stroke-width="2.6"/>
<ellipse cx="4168.4" cy="789.3" rx="37.8" ry="40.4" fill="#e3e3e3" stroke="#000" stroke-width="2.6"/>
<ellipse cx="3880.1" cy="1293.2" rx="37.8" ry="40.4" fill="#e3e3e3" stroke="#000" stroke-width="2.6"/>
<ellipse cx="4134.5" cy="1435.1" rx="37.8" ry="40.4" fill="#e3e3e3" stroke="#000" stroke-width="2.6"/>
<ellipse cx="3991.8" cy="1436.7" rx="36.1" ry="38.6" fill="#e3e3e3" stroke="#000" stroke-width="2.6"/>
<ellipse cx="3805.6" cy="627.5" rx="22.6" ry="24.2" fill="#e3e3e3" stroke="#000" stroke-width="2.6"/>
</g>
<rect x="3188" y="496" width="1157" height="1044" rx="70" ry="70" fill="none" stroke="#000" stroke-width="3"/>
<clipPath id="cEdge"><rect x="4338" y="560" width="11" height="860"/></clipPath>
<g clip-path="url(#cEdge)"><path d="M3781.6,523.5 C3788.8,530.0 3813.0,548.5 3825.1,562.2 C3837.2,575.9 3846.8,592.0 3854.1,605.7 C3861.3,619.4 3865.4,631.5 3868.6,644.4 C3871.8,657.3 3872.6,676.7 3873.4,683.1 " fill="none" stroke="#ffffff" stroke-width="15"/><path d="M3955.7,542.9 C3962.1,547.7 3983.9,560.6 3994.3,571.9 C4004.8,583.2 4013.3,598.5 4018.5,610.6 C4023.8,622.7 4024.6,638.8 4025.8,644.4 " fill="none" stroke="#ffffff" stroke-width="15"/><path d="M4091.1,525.9 C4098.3,532.0 4122.5,548.9 4134.6,562.2 C4146.7,575.5 4156.3,591.2 4163.6,605.7 C4170.9,620.2 4176.5,633.9 4178.1,649.3 C4179.7,664.6 4176.9,683.1 4173.3,697.6 C4169.6,712.1 4163.6,723.4 4156.3,736.3 C4149.1,749.2 4134.2,768.5 4129.7,775.0 " fill="none" stroke="#ffffff" stroke-width="15"/><path d="M4231.3,523.5 C4238.6,529.2 4261.9,543.7 4274.8,557.4 C4287.7,571.1 4301.4,591.2 4308.7,605.7 C4315.9,620.2 4317.5,633.1 4318.4,644.4 C4319.2,655.7 4314.3,668.6 4313.5,673.4 " fill="none" stroke="#ffffff" stroke-width="15"/><path d="M3709.0,695.2 C3720.3,691.2 3749.3,673.0 3776.7,671.0 C3804.1,669.0 3839.6,680.3 3873.4,683.1 C3907.3,685.9 3947.6,686.7 3979.8,687.9 C4012.1,689.2 4036.3,691.2 4066.9,690.4 C4097.5,689.6 4133.0,685.5 4163.6,683.1 C4194.2,680.7 4218.8,681.8 4250.6,675.9 C4282.5,669.9 4337.3,652.1 4354.6,647.3 " fill="none" stroke="#ffffff" stroke-width="15"/><path d="M3970.2,731.5 C3968.4,739.5 3960.3,763.7 3959.5,779.8 C3958.7,796.0 3960.3,813.7 3965.3,828.2 C3970.3,842.7 3983.5,852.4 3989.5,866.9 C3995.5,881.4 3998.4,899.1 4001.6,915.2 C4004.8,931.4 4006.8,947.8 4008.8,963.6 C4010.9,979.4 4012.9,1002.3 4013.7,1010.0 " fill="none" stroke="#ffffff" stroke-width="15"/><path d="M3767.0,862.0 C3779.9,860.0 3817.0,848.3 3844.4,850.0 C3871.8,851.6 3902.5,869.7 3931.5,871.7 C3960.5,873.7 3991.1,865.3 4018.5,862.0 C4045.9,858.8 4071.7,850.0 4095.9,852.4 C4120.1,854.8 4140.2,872.1 4163.6,876.6 C4187.0,881.0 4204.3,882.6 4236.1,879.0 C4268.0,875.3 4334.9,858.8 4354.6,854.8 " fill="none" stroke="#ffffff" stroke-width="15"/><path d="M4245.8,750.8 C4247.4,758.1 4250.6,781.4 4255.5,794.3 C4260.3,807.2 4267.6,816.1 4274.8,828.2 C4282.1,840.3 4293.4,852.4 4299.0,866.9 C4304.6,881.4 4307.9,899.1 4308.7,915.2 C4309.5,931.4 4306.3,947.8 4303.8,963.6 C4301.4,979.4 4295.8,1002.3 4294.2,1010.0 " fill="none" stroke="#ffffff" stroke-width="15"/><path d="M3839.6,891.1 C3843.6,899.1 3858.1,923.3 3863.8,939.4 C3869.4,955.5 3871.8,979.7 3873.4,987.8 " fill="none" stroke="#ffffff" stroke-width="15"/><path d="M4147.6,1000.0 C4146.3,1016.6 4139.3,1062.2 4140.1,1099.5 C4140.9,1136.8 4146.7,1189.0 4152.5,1223.8 C4158.3,1258.6 4170.8,1282.7 4174.9,1308.4 C4179.1,1334.1 4178.2,1354.8 4177.4,1378.0 C4176.6,1401.2 4175.3,1422.8 4169.9,1447.7 C4164.6,1472.5 4149.2,1514.0 4145.1,1527.2 " fill="none" stroke="#ffffff" stroke-width="15"/><path d="M4291.8,1000.0 C4293.0,1016.6 4295.9,1059.7 4299.3,1099.5 C4302.6,1139.3 4307.1,1197.3 4311.7,1238.8 C4316.3,1280.2 4325.4,1315.0 4326.6,1348.2 C4327.9,1381.3 4325.0,1407.9 4319.2,1437.7 C4313.4,1467.6 4296.4,1512.3 4291.8,1527.2 " fill="none" stroke="#ffffff" stroke-width="15"/><path d="M4008.3,1049.7 C4007.5,1062.2 4000.8,1092.8 4003.3,1124.3 C4005.8,1155.9 4018.6,1201.4 4023.2,1238.8 C4027.8,1276.1 4029.8,1316.7 4030.7,1348.2 C4031.5,1379.7 4028.6,1414.5 4028.2,1427.8 " fill="none" stroke="#ffffff" stroke-width="15"/><path d="M3844.1,1064.7 C3843.3,1073.0 3840.0,1106.1 3839.2,1114.4 " fill="none" stroke="#ffffff" stroke-width="15"/><path d="M3864.0,1378.0 C3865.3,1392.1 3870.3,1448.5 3871.5,1462.6 " fill="none" stroke="#ffffff" stroke-width="15"/><path d="M3938.6,1181.6 C3949.4,1180.3 3980.1,1176.6 4003.3,1174.1 C4026.5,1171.6 4053.9,1169.9 4077.9,1166.6 C4102.0,1163.3 4135.9,1156.3 4147.6,1154.2 " fill="none" stroke="#ffffff" stroke-width="15"/><path d="M4227.1,1191.5 C4237.1,1189.4 4265.3,1184.4 4286.8,1179.1 C4308.4,1173.8 4344.9,1162.9 4356.5,1159.7 " fill="none" stroke="#ffffff" stroke-width="15"/><path d="M3809.3,1315.8 C3820.9,1321.2 3854.1,1339.9 3879.0,1348.2 C3903.8,1356.5 3933.7,1363.9 3958.5,1365.6 C3983.4,1367.2 4016.6,1359.4 4028.2,1358.1 " fill="none" stroke="#ffffff" stroke-width="15"/><path d="M4266.9,1343.2 C4281.9,1340.1 4341.5,1327.5 4356.5,1324.3 " fill="none" stroke="#ffffff" stroke-width="15"/><path d="M3990.0,990.0 C4000.9,992.8 4033.8,1001.7 4055.7,1006.7 C4077.6,1011.7 4099.5,1014.3 4121.4,1019.8 C4143.3,1025.3 4165.1,1037.8 4187.0,1039.5 C4208.9,1041.2 4224.8,1034.6 4252.8,1029.7 C4280.8,1024.8 4338.0,1013.3 4355.0,1010.0 " fill="none" stroke="#ffffff" stroke-width="15"/></g>
<path d="M3329.3,496 L3329.3,366 A58,60 0 0 1 3387.3,306 L4144.7,306 A58,60 0 0 1 4202.7,366 L4202.7,493" fill="none" stroke="#557a8a" stroke-width="13.5"/>
<ellipse cx="3766" cy="307" rx="65" ry="70.5" fill="#fff" stroke="#557a8a" stroke-width="13"/>
<text font-family="Liberation Sans" transform="translate(3766,350) scale(1,1.07)" font-size="111" fill="#000" text-anchor="middle">V</text>
<ellipse cx="4196" cy="523.5" rx="28" ry="29.8" fill="#e3e3e3" stroke="#000" stroke-width="2.6"/>
<ellipse cx="3255" cy="400" rx="40" ry="42.4" fill="#fff" stroke="#000" stroke-width="3"/>
<rect x="3223.6" y="400" width="62.4" height="7" fill="#000"/>
<ellipse cx="4259.5" cy="400" rx="40" ry="42.4" fill="#fff" stroke="#000" stroke-width="3"/>
<rect x="4235" y="397" width="51.5" height="7" fill="#000"/>
<rect x="4256.5" y="374.7" width="7" height="54.5" fill="#000"/>
<ellipse cx="3311.6" cy="1444.5" rx="11.5" ry="12.5" fill="#000"/>
<line x1="3311.6" y1="1444.5" x2="3311.6" y2="1624" stroke="#000" stroke-width="2.6"/>
<ellipse cx="3686" cy="1444.5" rx="11.5" ry="12.5" fill="#000"/>
<line x1="3686" y1="1444.5" x2="3686" y2="1622.6" stroke="#000" stroke-width="2.6"/>
<line x1="4164" y1="1465" x2="4164" y2="1622.6" stroke="#000" stroke-width="2.6"/>
<path d="M4558.1,371.5 Q4560.8,453.1 4631.7,435.4 Q4578.3,489.8 4649.5,529.9 Q4573.7,532.2 4626.6,590.0 Q4533.2,561.6 4532.0,640.0 Q4502.0,563.4 4423.4,600.2 Q4468.9,524.8 4390.2,484.7 Q4474.4,460.4 4445.9,387.6 Q4507.5,433.8 4558.1,371.5 Z" fill="#f9a232"/>
<path d="M4549.7,400.2 Q4555.1,459.9 4607.1,450.0 Q4570.2,491.5 4621.0,523.7 Q4566.2,527.9 4603.1,570.6 Q4531.4,553.2 4529.4,609.6 Q4504.5,554.8 4444.7,578.6 Q4476.0,521.6 4418.8,488.5 Q4480.7,466.2 4462.2,412.7 Q4509.2,443.3 4549.7,400.2 Z" fill="#fbb43c"/>
<ellipse cx="4520" cy="501.8" rx="67" ry="69.5" fill="#fde03a"/>
<ellipse cx="4504" cy="475.5" rx="30" ry="27" transform="rotate(-35 4504 475.5)" fill="#fff833"/>
<path d="M4430.6,611.2 L4448,623 L4390.8,713.4 L4412,718 L4345.6,764.3 L4361.2,680.5 L4373.5,700.2 Z" fill="url(#gRain1)"/>
<path d="M4492.8,643.3 L4512.3,650.6 L4391.8,999.1 L4413.7,999.1 L4358.2,1061.2 L4355.3,975.8 L4371.4,992 Z" fill="url(#gRain2)"/>
<path d="M4564.8,614.1 L4584.5,620.4 L4394.8,1289.4 L4415.9,1287.5 L4364.8,1353.2 L4356.8,1268.2 L4374.3,1282.8 Z" fill="url(#gRain3)"/></svg></body></html>
